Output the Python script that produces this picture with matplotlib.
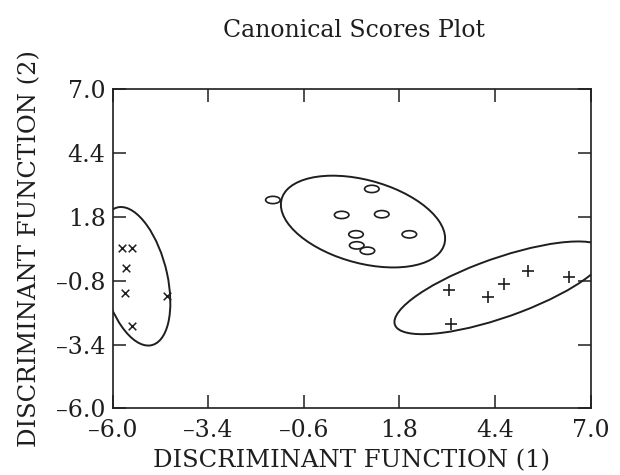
import numpy as np
import matplotlib
matplotlib.use('Agg')
import matplotlib.pyplot as plt
from matplotlib.patches import Ellipse
from matplotlib.path import Path
from matplotlib.transforms import Affine2D

plt.rcParams['font.family'] = 'DejaVu Serif'

# canonical scores, one group per marker
x_cross = [-5.73, -5.46, -5.63, -5.66, -4.53, -5.48]
y_cross = [0.52, 0.52, -0.27, -1.31, -1.42, -2.65]
x_circ = [-1.64, 1.05, 0.23, 1.32, 0.62, 2.07, 0.64, 0.93]
y_circ = [2.49, 2.94, 1.88, 1.91, 1.09, 1.09, 0.64, 0.42]
x_plus = [3.16, 4.22, 4.63, 5.30, 6.40, 3.20]
y_plus = [-1.18, -1.45, -0.95, -0.40, -0.64, -2.58]

# group ellipses (centre, full width/height, angle in data units)
ell_cx = [-5.40, 0.81, 4.54]
ell_cy = [-0.62, 1.61, -1.09]
ell_w = [5.70, 4.88, 6.50]
ell_h = [1.78, 3.18, 2.26]
ell_angle = [-81.7, 147.9, -150.2]

xtick_labels = ['-6.0', '-3.4', '-0.6', '1.8', '4.4', '7.0']
ytick_labels = ['-6.0', '-3.4', '-0.8', '1.8', '4.4', '7.0']

ink = '#1e1e1e'

fig = plt.figure(figsize=(6.2, 4.75), dpi=100)
ax = fig.add_axes([0.1815, 0.1404, 0.7712, 0.6716])

for cx, cy, w, h, a in zip(ell_cx, ell_cy, ell_w, ell_h, ell_angle):
    ax.add_patch(Ellipse((cx, cy), w, h, angle=a, fill=False, lw=1.4, color=ink))

# flattened "o" like the original plot symbol
oval = Path.unit_circle().transformed(Affine2D().scale(1, 0.5))
ax.scatter(x_cross, y_cross, marker='x', s=30, c=ink, lw=1.1)
ax.scatter(x_circ, y_circ, marker=oval, s=110, facecolors='none', edgecolors=ink, lw=1.2)
ax.scatter(x_plus, y_plus, marker='+', s=80, c=ink, lw=1.2)

ax.set_xlim(-6, 7)
ax.set_ylim(-6, 7)
ax.set_xticks(np.linspace(-6, 7, len(xtick_labels)))
ax.set_xticklabels([t.replace('-', '\u2013') for t in xtick_labels])
ax.set_yticks(np.linspace(-6, 7, len(ytick_labels)))
ax.set_yticklabels([t.replace('-', '\u2013') for t in ytick_labels])
ax.tick_params(direction='in', length=9.5, width=1.1, top=True, right=True,
               labelsize=17, pad=5, colors=ink)
ax.tick_params(axis='x', pad=8)
for s in ax.spines.values():
    s.set_linewidth(1.2)
    s.set_color(ink)

ax.set_xlabel('DISCRIMINANT FUNCTION (1)', fontsize=17.5, labelpad=5, color=ink)
ax.set_ylabel('DISCRIMINANT FUNCTION (2)', fontsize=17.5, labelpad=11, color=ink)
fig.text(0.571, 0.935, 'Canonical Scores Plot', ha='center', va='center',
         fontsize=17, color=ink)

fig.savefig('out.png', dpi=100)
